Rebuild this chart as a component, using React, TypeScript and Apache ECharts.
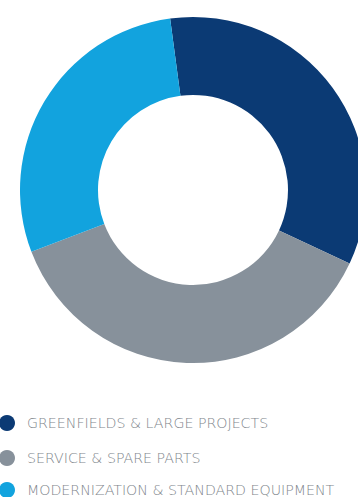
import React, { useEffect, useRef } from "react";
import * as echarts from "echarts";

const categories = [
  "GREENFIELDS & LARGE PROJECTS",
  "SERVICE & SPARE PARTS",
  "MODERNIZATION & STANDARD EQUIPMENT",
];
const shares = [34.1, 37.2, 28.7];
const colors = ["#0b3a74", "#87919b", "#12a3de"];
const legendTops = [415, 450, 482];

export default function App() {
  const ref = useRef<HTMLDivElement>(null);
  useEffect(() => {
    if (!ref.current) return;
    const chart = echarts.init(ref.current, null, { renderer: "svg" });
    chart.setOption({
      animation: false,
      backgroundColor: "#ffffff",
      color: colors,
      legend: categories.map((name, i) => ({
        orient: "vertical",
        left: -1,
        top: legendTops[i],
        padding: 0,
        icon: "circle",
        itemWidth: 16,
        itemHeight: 16,
        selectedMode: false,
        textStyle: {
          fontFamily: "DejaVu Sans",
          fontWeight: 200,
          fontSize: 14.2,
          color: "#80868c",
          padding: [0, 0, 0, 7],
        },
        data: [name],
      })),
      series: [
        {
          type: "pie",
          center: [193, 190],
          radius: [95, 173],
          startAngle: 97.6,
          clockwise: true,
          label: { show: false },
          labelLine: { show: false },
          emphasis: { disabled: true },
          data: categories.map((name, i) => ({ name, value: shares[i] })),
        },
      ],
    });
    return () => chart.dispose();
  }, []);
  return (
    <div
      ref={ref}
      style={{ position: "fixed", left: 0, top: 0, width: 358, height: 497 }}
    />
  );
}
